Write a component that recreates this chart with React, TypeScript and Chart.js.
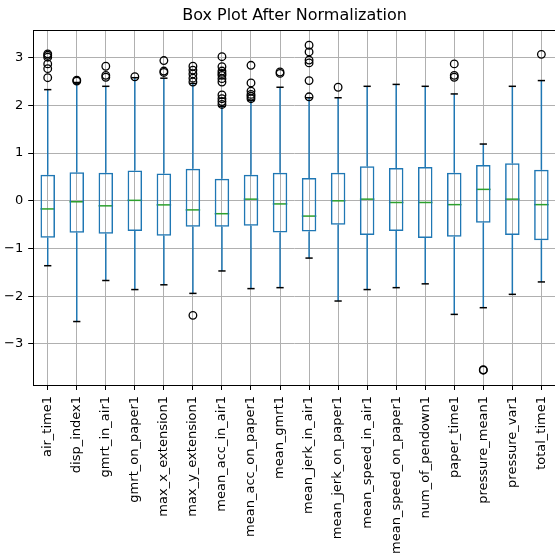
import React, { useEffect, useRef } from 'react';
import { Chart, registerables } from 'chart.js';

Chart.register(...registerables);

const categories = [
  'air_time1', 'disp_index1', 'gmrt_in_air1', 'gmrt_on_paper1', 'max_x_extension1',
  'max_y_extension1', 'mean_acc_in_air1', 'mean_acc_on_paper1', 'mean_gmrt1',
  'mean_jerk_in_air1', 'mean_jerk_on_paper1', 'mean_speed_in_air1', 'mean_speed_on_paper1',
  'num_of_pendown1', 'paper_time1', 'pressure_mean1', 'pressure_var1', 'total_time1',
];

const q1Values = [-0.776, -0.67, -0.69, -0.63, -0.73, -0.545, -0.545, -0.52, -0.665, -0.645, -0.50, -0.715, -0.63, -0.78, -0.755, -0.46, -0.715, -0.825];
const medianValues = [-0.17, -0.02, -0.105, 0.01, -0.085, -0.19, -0.27, 0.035, -0.065, -0.32, 0.0, 0.035, -0.035, -0.035, -0.08, 0.24, 0.035, -0.08];
const q3Values = [0.545, 0.60, 0.587, 0.635, 0.57, 0.67, 0.46, 0.545, 0.59, 0.48, 0.59, 0.725, 0.69, 0.71, 0.59, 0.75, 0.79, 0.65];
const whiskerLow = [-1.36, -2.53, -1.67, -1.86, -1.76, -1.94, -1.47, -1.84, -1.82, -1.2, -2.10, -1.86, -1.82, -1.74, -2.38, -2.24, -1.96, -1.70];
const whiskerHigh = [2.33, 2.48, 2.40, 2.58, 2.57, 2.46, 1.98, 2.10, 2.38, 2.16, 2.16, 2.40, 2.44, 2.40, 2.24, 1.19, 2.40, 2.52];
const outlierValues = [
  [2.58, 2.77, 2.87, 3.01, 3.05, 3.08],
  [2.51, 2.53],
  [2.59, 2.63, 2.82],
  [2.60],
  [2.69, 2.72, 2.94],
  [-2.40, 2.49, 2.57, 2.66, 2.74, 2.82],
  [2.02, 2.08, 2.14, 2.22, 2.49, 2.56, 2.63, 2.67, 2.72, 2.81, 3.02],
  [2.14, 2.19, 2.23, 2.30, 2.47, 2.84],
  [2.67, 2.70],
  [2.18, 2.52, 2.89, 2.95, 3.12, 3.26],
  [2.38],
  [],
  [],
  [],
  [2.59, 2.63, 2.87],
  [-3.54, -3.55],
  [],
  [3.07],
];

const yTickValues = [-3, -2, -1, 0, 1, 2, 3];
const yMin = -3.86;
const yMax = 3.58;
const titleText = 'Box Plot After Normalization';

const FONT = 'DejaVu Sans';
const BLUE = '#1f77b4';
const GREEN = '#2ca02c';

export default function App() {
  const ref = useRef<HTMLCanvasElement>(null);

  useEffect(() => {
    const canvas = ref.current;
    if (!canvas) return;

    const boxParts = {
      id: 'boxParts',
      beforeDatasetsDraw(chart: any) {
        const { ctx, scales } = chart;
        const x = scales.x;
        const y = scales.y;
        const step = x.getPixelForValue(1) - x.getPixelForValue(0);
        const bw = step * 0.5;
        const line = (x1: number, y1: number, x2: number, y2: number) => {
          ctx.beginPath();
          ctx.moveTo(x1, y1);
          ctx.lineTo(x2, y2);
          ctx.stroke();
        };
        ctx.save();
        ctx.lineWidth = 1.5;
        categories.forEach((_, i) => {
          const cx = x.getPixelForValue(i);
          ctx.strokeStyle = BLUE;
          line(cx, y.getPixelForValue(q1Values[i]), cx, y.getPixelForValue(whiskerLow[i]));
          line(cx, y.getPixelForValue(q3Values[i]), cx, y.getPixelForValue(whiskerHigh[i]));
          ctx.strokeStyle = '#000';
          line(cx - bw / 4, y.getPixelForValue(whiskerLow[i]), cx + bw / 4, y.getPixelForValue(whiskerLow[i]));
          line(cx - bw / 4, y.getPixelForValue(whiskerHigh[i]), cx + bw / 4, y.getPixelForValue(whiskerHigh[i]));
          ctx.strokeStyle = GREEN;
          line(cx - bw / 2, y.getPixelForValue(medianValues[i]), cx + bw / 2, y.getPixelForValue(medianValues[i]));
        });
        ctx.restore();
      },
      afterDatasetsDraw(chart: any) {
        const { ctx, chartArea } = chart;
        ctx.save();
        ctx.strokeStyle = '#000';
        ctx.lineWidth = 1;
        ctx.strokeRect(Math.round(chartArea.left) + 0.5, Math.round(chartArea.top) + 0.5,
          chartArea.right - chartArea.left, chartArea.bottom - chartArea.top);
        ctx.restore();
      },
    };

    const outlierPoints = categories.flatMap((c, i) => outlierValues[i].map((v) => ({ x: c, y: v })));

    const chart = new Chart(canvas, {
      type: 'bar',
      data: {
        labels: categories,
        datasets: [
          {
            type: 'bar',
            data: categories.map((_, i) => [q1Values[i], q3Values[i]]) as any,
            backgroundColor: 'rgba(0,0,0,0)',
            borderColor: BLUE,
            borderWidth: 1.5,
            borderSkipped: false,
            barPercentage: 0.5,
            categoryPercentage: 1.0,
          },
          {
            type: 'line',
            data: outlierPoints as any,
            showLine: false,
            pointRadius: 3.8,
            pointBorderWidth: 1.3,
            pointBorderColor: '#000',
            pointBackgroundColor: 'rgba(0,0,0,0)',
            pointHoverRadius: 3.8,
          },
        ],
      },
      options: {
        responsive: false,
        animation: false,
        devicePixelRatio: 1,
        layout: { padding: { left: 0, right: 2, top: 0, bottom: 0 } },
        plugins: {
          legend: { display: false },
          tooltip: { enabled: false },
          title: {
            display: true,
            text: titleText,
            color: '#000',
            fullSize: false,
            font: { family: FONT, size: 16, weight: 'normal' },
            padding: { top: 6, bottom: 4.8 },
          },
        },
        scales: {
          x: {
            type: 'category',
            offset: true,
            grid: {
              offset: false,
              color: '#b0b0b0',
              lineWidth: 1,
              drawTicks: true,
              tickLength: 5,
              tickColor: '#000',
              tickWidth: 1,
            },
            border: { display: false },
            ticks: {
              autoSkip: false,
              minRotation: 90,
              maxRotation: 90,
              padding: 6,
              color: '#000',
              font: { family: FONT, size: 13 },
            },
            afterFit(scale: any) {
              scale.height = 174;
              scale.paddingLeft = 0;
              scale.paddingRight = 0;
            },
          },
          y: {
            type: 'linear',
            min: yMin,
            max: yMax,
            grid: {
              color: '#b0b0b0',
              lineWidth: 1,
              drawTicks: true,
              tickLength: 5,
              tickColor: '#000',
              tickWidth: 1,
            },
            border: { display: false },
            ticks: {
              padding: 5,
              color: '#000',
              font: { family: FONT, size: 13 },
              callback: (v: any) => (Number(v) < 0 ? '\u2212' + Math.abs(Number(v)) : String(v)),
            },
            afterBuildTicks(scale: any) {
              scale.ticks = yTickValues.map((v) => ({ value: v }));
            },
            afterFit(scale: any) {
              scale.width = 33.2;
              scale.paddingTop = 0;
              scale.paddingBottom = 0;
            },
          },
        },
      },
      plugins: [boxParts],
    });

    return () => chart.destroy();
  }, []);

  return (
    <div style={{ position: 'fixed', left: 0, top: 0, width: 555, height: 559, overflow: 'hidden', background: '#fff' }}>
      <canvas ref={ref} width={561} height={559} style={{ display: 'block' }} />
    </div>
  );
}
